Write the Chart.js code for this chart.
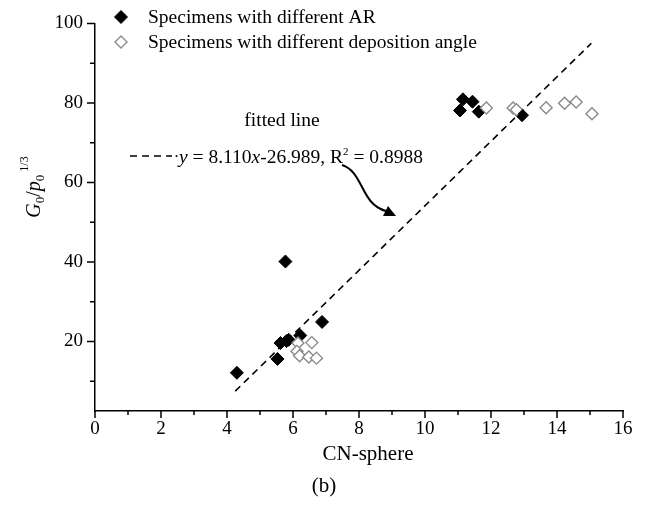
<!DOCTYPE html>
<html lang="en">
	<head>
		<meta charset="utf-8"/>
		<title>G0/p0 vs CN-sphere</title>
		<script src="https://cdn.jsdelivr.net/npm/chart.js@4.4.1/dist/chart.umd.min.js"></script>
		<style>
			body {
				margin: 0;
				background-color: white;
			}
			.container {
				width: 649px;
				height: 505px;
			}
		</style>
	</head>

	<body>
		<div class="container">
			<canvas id="myChart" width="649" height="505"></canvas>
		</div>

		<script>
			// data
			const arX = [4.3, 5.53, 5.77, 5.62, 5.8, 5.87, 6.22, 6.88, 11.06, 11.15, 11.44, 11.63, 12.94];
			const arY = [12.1, 15.6, 40.1, 19.6, 20.1, 20.4, 21.5, 24.9, 78.1, 80.9, 80.3, 77.8, 76.9];
			const angX = [6.15, 6.57, 6.12, 6.2, 6.48, 6.71, 11.86, 12.67, 12.77, 13.67, 14.23, 14.58, 15.06];
			const angY = [19.6, 19.7, 17.5, 16.4, 16.1, 15.8, 78.7, 78.7, 78.3, 78.8, 79.9, 80.2, 77.3];
			const fitX = [4.25, 15.04];
			const fitY = [7.5, 95.0];

			const xTicks = [0, 2, 4, 6, 8, 10, 12, 14, 16];
			const xMinor = [1, 3, 5, 7, 9, 11, 13, 15];
			const yTicks = [20, 40, 60, 80, 100];
			const yMinor = [10, 30, 50, 70, 90];

			const legendLabels = ['Specimens with different AR', 'Specimens with different deposition angle'];

			const FONT = '"Liberation Serif", "Times New Roman", serif';

			function pts(xs, ys) {
				return xs.map((x, i) => ({x: x, y: ys[i]}));
			}

			const extras = {
				id: 'extras',
				afterDraw(chart) {
					const ctx = chart.ctx;
					const xs = chart.scales.x, ys = chart.scales.y;
					const area = chart.chartArea;
					ctx.save();
					ctx.strokeStyle = '#000';
					ctx.lineWidth = 1.5;

					// tick marks, major and minor, pointing out
					ctx.beginPath();
					xTicks.forEach(v => { let p = xs.getPixelForValue(v); ctx.moveTo(p, area.bottom); ctx.lineTo(p, area.bottom + 7); });
					xMinor.forEach(v => { let p = xs.getPixelForValue(v); ctx.moveTo(p, area.bottom); ctx.lineTo(p, area.bottom + 4); });
					yTicks.forEach(v => { let p = ys.getPixelForValue(v); ctx.moveTo(area.left, p); ctx.lineTo(area.left - 8, p); });
					yMinor.forEach(v => { let p = ys.getPixelForValue(v); ctx.moveTo(area.left, p); ctx.lineTo(area.left - 5, p); });
					ctx.stroke();

					// x title
					ctx.fillStyle = '#000';
					ctx.textAlign = 'center';
					ctx.textBaseline = 'middle';
					ctx.font = '21px ' + FONT;
					ctx.fillText('CN-sphere', 368, 454);

					// y title: G0/p0^1/3, rotated
					ctx.save();
					ctx.translate(40, 187);
					ctx.rotate(-Math.PI / 2);
					ctx.textAlign = 'left';
					ctx.textBaseline = 'alphabetic';
					const parts = [
						['italic 20px ' + FONT, 'G', 0],
						['13px ' + FONT, '0', 4],
						['20px ' + FONT, '/', 0],
						['italic 20px ' + FONT, 'p', 0],
						['13px ' + FONT, '0', 4],
						['12px ' + FONT, ' 1/3', -12]
					];
					let total = 0;
					parts.forEach(p => { ctx.font = p[0]; total += ctx.measureText(p[1]).width; });
					let cx = -total / 2;
					parts.forEach(p => {
						ctx.font = p[0];
						ctx.fillText(p[1], cx, p[2]);
						cx += ctx.measureText(p[1]).width;
					});
					ctx.restore();

					// legend
					const ds = chart.data.datasets;
					[[ds[2], 17], [ds[1], 42]].forEach((item, i) => {
						const d = item[0];
						ctx.save();
						ctx.fillStyle = d.backgroundColor;
						ctx.strokeStyle = d.borderColor;
						ctx.lineWidth = d.borderWidth;
						const r = d.pointRadius;
						ctx.beginPath();
						ctx.moveTo(121, item[1] - r);
						ctx.lineTo(121 + r, item[1]);
						ctx.lineTo(121, item[1] + r);
						ctx.lineTo(121 - r, item[1]);
						ctx.closePath();
						ctx.fill();
						ctx.stroke();
						ctx.restore();
						ctx.fillStyle = '#000';
						ctx.font = '19.5px ' + FONT;
						ctx.textBaseline = 'middle';
						ctx.textAlign = 'left';
						ctx.fillText(legendLabels[i], 148, item[1] + 1);
					});

					// fitted line annotation
					ctx.fillStyle = '#000';
					ctx.textBaseline = 'alphabetic';
					ctx.textAlign = 'center';
					ctx.font = '19.5px ' + FONT;
					ctx.fillText('fitted line', 282, 126);

					ctx.save();
					ctx.setLineDash([7, 5]);
					ctx.lineWidth = 1.5;
					ctx.beginPath();
					ctx.moveTo(130, 156);
					ctx.lineTo(172, 156);
					ctx.stroke();
					ctx.restore();
					ctx.beginPath();
					ctx.arc(176.5, 156, 1, 0, Math.PI * 2);
					ctx.fill();

					ctx.textAlign = 'left';
					let ex = 179;
					const eq = [
						['italic 19.5px ' + FONT, 'y', 0],
						['19.5px ' + FONT, ' = 8.110', 0],
						['italic 19.5px ' + FONT, 'x', 0],
						['19.5px ' + FONT, '-26.989, R', 0],
						['11px ' + FONT, '2', -8],
						['19.5px ' + FONT, ' = 0.8988', 0]
					];
					eq.forEach(p => {
						ctx.font = p[0];
						ctx.fillText(p[1], ex, 163 + p[2]);
						ex += ctx.measureText(p[1]).width;
					});

					// curved arrow pointing at the fitted line
					ctx.lineWidth = 2;
					ctx.beginPath();
					ctx.moveTo(342, 165);
					ctx.bezierCurveTo(364, 172, 360, 204, 386, 211);
					ctx.stroke();
					ctx.beginPath();
					ctx.moveTo(396, 216);
					ctx.lineTo(383, 216);
					ctx.lineTo(388, 206);
					ctx.closePath();
					ctx.fill();

					// panel label
					ctx.textAlign = 'center';
					ctx.textBaseline = 'middle';
					ctx.font = '21px ' + FONT;
					ctx.fillText('(b)', 324, 486);

					ctx.restore();
				}
			};

			const ch1 = document.getElementById('myChart').getContext('2d');
			const chart1 = new Chart(ch1, {
				type: 'scatter',
				data: {
					datasets: [
						{
							type: 'line',
							label: 'fitted line',
							data: pts(fitX, fitY),
							borderColor: '#000000',
							borderWidth: 1.6,
							borderDash: [7, 5],
							pointRadius: 0,
							fill: false
						},
						{
							label: legendLabels[1],
							data: pts(angX, angY),
							pointStyle: 'rectRot',
							pointRadius: 6,
							backgroundColor: '#ffffff',
							borderColor: '#8a8a8a',
							borderWidth: 1.4
						},
						{
							label: legendLabels[0],
							data: pts(arX, arY),
							pointStyle: 'rectRot',
							pointRadius: 6.5,
							backgroundColor: '#000000',
							borderColor: '#000000',
							borderWidth: 1
						}
					]
				},
				options: {
					responsive: false,
					animation: false,
					layout: {
						padding: {top: 15, right: 26, left: 0, bottom: 0}
					},
					plugins: {
						legend: {display: false},
						tooltip: {enabled: false}
					},
					scales: {
						x: {
							type: 'linear',
							min: 0,
							max: 16,
							afterBuildTicks: s => { s.ticks = xTicks.map(v => ({value: v})); },
							afterFit: s => { s.height = 94; },
							grid: {display: false, drawTicks: false, tickLength: 0},
							border: {display: true, color: '#000', width: 1.5},
							ticks: {
								color: '#000',
								font: {family: FONT, size: 19},
								padding: 7,
								maxRotation: 0
							}
						},
						y: {
							type: 'linear',
							min: 2.5,
							max: 100,
							afterBuildTicks: s => { s.ticks = yTicks.map(v => ({value: v})); },
							afterFit: s => { s.width = 95; },
							grid: {display: false, drawTicks: false, tickLength: 0},
							border: {display: true, color: '#000', width: 1.5},
							ticks: {
								color: '#000',
								font: {family: FONT, size: 19},
								padding: 12
							}
						}
					}
				},
				plugins: [extras]
			});
		</script>
	</body>
</html>
